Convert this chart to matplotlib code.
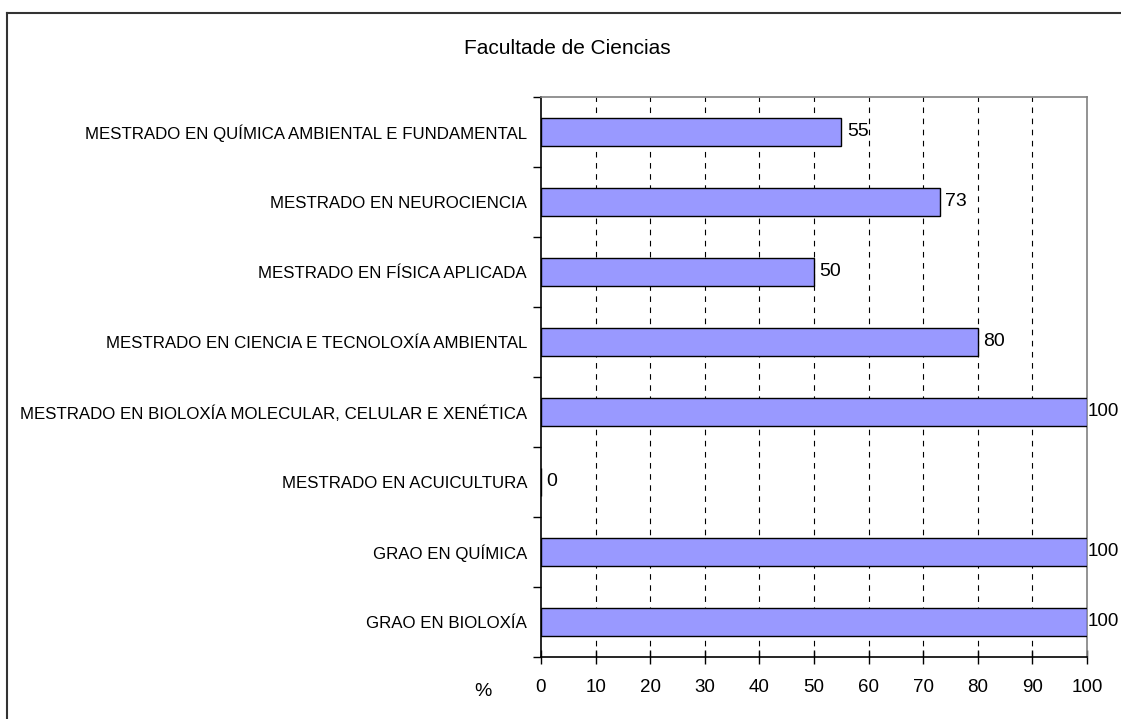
import matplotlib
matplotlib.use("Agg")
import matplotlib.pyplot as plt
from matplotlib.lines import Line2D

plt.rcParams['font.family'] = ['Liberation Sans', 'DejaVu Sans']

categories = [
    "GRAO EN BIOLOXÍA",
    "GRAO EN QUÍMICA",
    "MESTRADO EN ACUICULTURA",
    "MESTRADO EN BIOLOXÍA MOLECULAR, CELULAR E XENÉTICA",
    "MESTRADO EN CIENCIA E TECNOLOXÍA AMBIENTAL",
    "MESTRADO EN FÍSICA APLICADA",
    "MESTRADO EN NEUROCIENCIA",
    "MESTRADO EN QUÍMICA AMBIENTAL E FUNDAMENTAL",
]
values = [100, 100, 0, 100, 80, 50, 73, 55]
xticks = [0, 10, 20, 30, 40, 50, 60, 70, 80, 90, 100]
title = "Facultade de Ciencias"
xlabel = "%"

W, H = 1121, 719
fig = plt.figure(figsize=(W / 100, H / 100), dpi=100)
ax = fig.add_axes([541 / W, 1 - 657 / H, (1087 - 541) / W, (657 - 97) / H])

ypos = list(range(len(categories)))
ax.barh(ypos, values, height=0.39, color="#9999FF", edgecolor="black", linewidth=1.0, zorder=3)

xmax = xticks[-1]
for y, v in zip(ypos, values):
    off = 4 if v < xmax else 0.3
    ax.annotate(str(v), (v, y), xytext=(off, 0), textcoords="offset points",
                ha="left", va="center", fontsize=13.5 if v >= xmax else 14,
                color="black", annotation_clip=False)

ax.set_xlim(0, xmax)
ax.set_ylim(-0.5, len(categories) - 0.5)
ax.set_xticks(xticks)
ax.set_xticklabels([str(t) for t in xticks], fontsize=13.5)
ax.set_yticks(ypos)
ax.set_yticklabels(categories, fontsize=12.2)
ax.set_yticks([i - 0.5 for i in range(len(categories) + 1)], minor=True)

ax.tick_params(axis="y", which="major", length=0, pad=10)
ax.tick_params(axis="y", which="minor", length=6, width=1, direction="out", color="black")
ax.tick_params(axis="x", which="major", length=10, width=1, direction="inout", pad=11, color="black")

for x in xticks[1:-1]:
    ax.axvline(x, color="black", linewidth=0.8, linestyle=(0, (5, 5)), zorder=1)

ax.spines["left"].set_color("black")
ax.spines["bottom"].set_color("black")
ax.spines["left"].set_linewidth(1.2)
ax.spines["bottom"].set_linewidth(1.2)
ax.spines["top"].set_color("#808080")
ax.spines["right"].set_color("#808080")
ax.spines["top"].set_linewidth(1.2)
ax.spines["right"].set_linewidth(1.2)

fig.text(567 / W, 1 - 48 / H, title, ha="center", va="center", fontsize=15)
fig.text(483 / W, 1 - 692 / H, xlabel, ha="center", va="center", fontsize=14)

# outer chart frame (top and left edges visible)
fig.add_artist(Line2D([7 / W, 1.01], [1 - 13 / H, 1 - 13 / H], transform=fig.transFigure,
                      color="#333333", linewidth=1.5))
fig.add_artist(Line2D([7 / W, 7 / W], [1 - 13 / H, -0.01], transform=fig.transFigure,
                      color="#333333", linewidth=1.5))

fig.savefig("out.png", dpi=100)
